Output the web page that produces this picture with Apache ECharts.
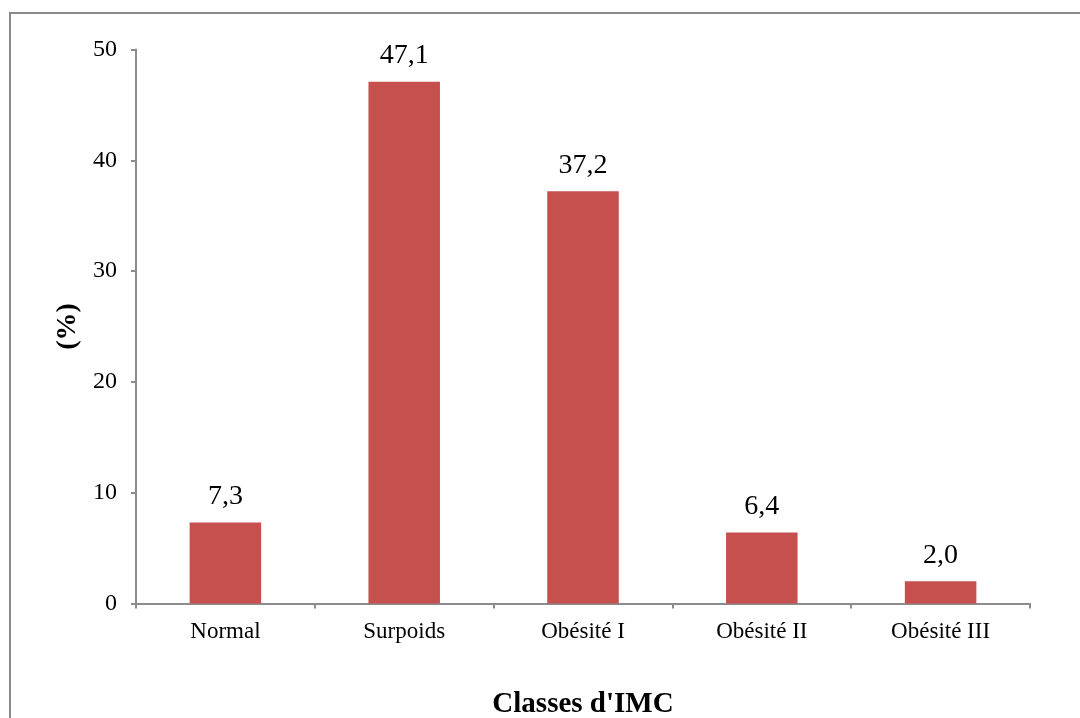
<!DOCTYPE html>
<html>
<head>
<meta charset="utf-8">
<script src="https://cdn.jsdelivr.net/npm/echarts@6/dist/echarts.min.js"></script>
<style>
  html, body { margin: 0; padding: 0; background: #fff; }
  #chart { width: 1080px; height: 718px; }
</style>
</head>
<body>
<div id="chart"></div>
<script>
// BMI classes and share of patients (%)
const categories = ['Normal', 'Surpoids', 'Obésité I', 'Obésité II', 'Obésité III'];
const percentages = [7.3, 47.1, 37.2, 6.4, 2.0];
const yTicks = [0, 10, 20, 30, 40, 50];

const serif = '"Liberation Serif", "Times New Roman", serif';
const axisGrey = '#8c8c8c';

const chart = echarts.init(document.getElementById('chart'));
chart.setOption({
  backgroundColor: '#fff',
  animation: false,
  graphic: [{
    type: 'rect',
    shape: { x: 10, y: 13, width: 1200, height: 900 },
    style: { fill: 'none', stroke: '#8a8a8a', lineWidth: 2 },
    silent: true
  }],
  grid: { left: 136, right: 50, top: 49.5, bottom: 114.5, containLabel: false, outerBoundsMode: 'none' },
  xAxis: {
    type: 'category',
    data: categories,
    name: "Classes d'IMC",
    nameLocation: 'middle',
    nameGap: 87,
    nameTextStyle: { fontFamily: serif, fontWeight: 'bold', fontSize: 29, color: '#000' },
    axisLine: { lineStyle: { color: axisGrey, width: 2 } },
    axisTick: { show: true, alignWithLabel: false, length: 5, inside: false, lineStyle: { color: axisGrey, width: 2 } },
    axisLabel: { fontFamily: serif, fontSize: 23, color: '#000', margin: 17 }
  },
  yAxis: {
    type: 'value',
    min: yTicks[0],
    max: yTicks[yTicks.length - 1],
    interval: 10,
    name: '(%)',
    nameLocation: 'middle',
    nameGap: 54,
    nameRotate: 90,
    nameTextStyle: { fontFamily: serif, fontWeight: 'bold', fontSize: 28, color: '#000' },
    axisLine: { show: true, lineStyle: { color: axisGrey, width: 2 } },
    axisTick: { show: true, length: 5, lineStyle: { color: axisGrey, width: 2 } },
    splitLine: { show: false },
    axisLabel: { fontFamily: serif, fontSize: 24, color: '#000', margin: 19 }
  },
  series: [{
    type: 'bar',
    data: percentages,
    barWidth: '40%',
    itemStyle: { color: '#C6504E' },
    label: {
      show: true,
      position: 'top',
      distance: 12,
      fontFamily: serif,
      fontSize: 28,
      color: '#000',
      formatter: p => p.value.toFixed(1).replace('.', ',')
    }
  }]
});
</script>
</body>
</html>
